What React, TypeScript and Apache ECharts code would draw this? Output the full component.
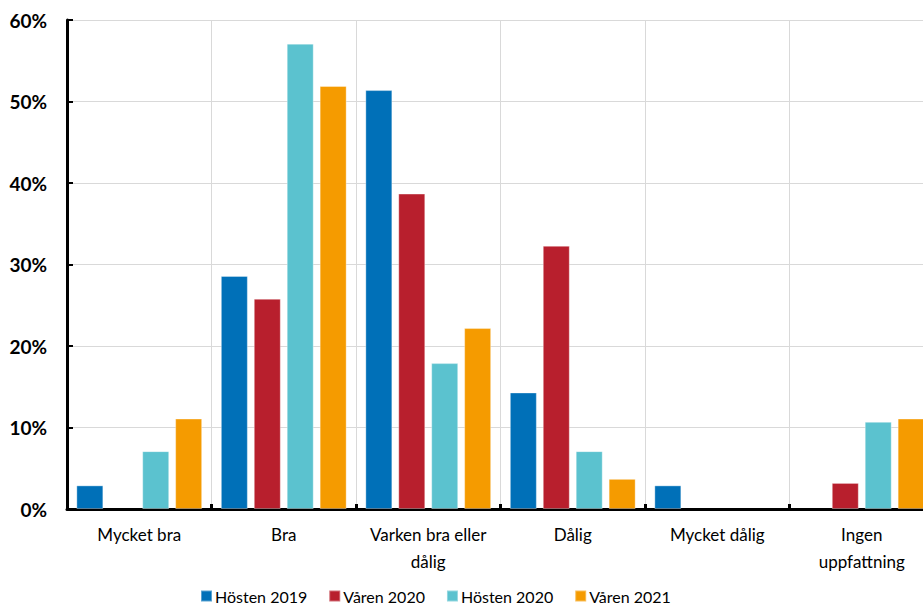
import React, { useEffect, useRef } from "react";
import * as echarts from "echarts";

const categories = ["Mycket bra", "Bra", "Varken bra eller\ndålig", "Dålig", "Mycket dålig", "Ingen\nuppfattning"];
const seriesNames = ["Hösten 2019", "Våren 2020", "Hösten 2020", "Våren 2021"];
const hosten2019 = [2.9, 28.6, 51.4, 14.3, 2.9, 0];
const varen2020 = [0, 25.8, 38.7, 32.3, 0, 3.2];
const hosten2020 = [7.1, 57.1, 17.9, 7.1, 0, 10.7];
const varen2021 = [11.1, 51.9, 22.2, 3.7, 0, 11.1];
const colors = ["#0070B8", "#B81F2D", "#5BC2CF", "#F59B00"];
const yTicks = { min: 0, max: 60, interval: 10 };

const FONT = "Lato";

export default function App() {
  const ref = useRef<HTMLDivElement>(null);
  useEffect(() => {
    document.body.style.margin = "0";
    const chart = echarts.init(ref.current!, null, { renderer: "svg" });
    const data = [hosten2019, varen2020, hosten2020, varen2021];
    chart.setOption({
      animation: false,
      grid: { left: 67, top: 20, width: 867, height: 489, containLabel: false },
      legend: {
        top: 588,
        left: 200,
        padding: 0,
        itemWidth: 11,
        itemHeight: 11,
        itemGap: 21,
        icon: "rect",
        textStyle: { fontFamily: FONT, fontSize: 16, color: "#000", padding: [0, 0, 0, -2] },
        data: seriesNames,
      },
      xAxis: {
        type: "category",
        data: categories,
        axisLine: { lineStyle: { color: "#000", width: 3 } },
        axisTick: { show: true, inside: true, length: 5, lineStyle: { color: "#000", width: 3 } },
        splitLine: { show: true, lineStyle: { color: "#d9d9d9", width: 1 } },
        axisLabel: { fontFamily: FONT, fontSize: 17, color: "#000", lineHeight: 27, margin: 12, interval: 0 },
      },
      yAxis: {
        type: "value",
        min: yTicks.min,
        max: yTicks.max,
        interval: yTicks.interval,
        axisLine: { show: true, lineStyle: { color: "#000", width: 3 } },
        axisTick: { show: true, inside: true, length: 6, lineStyle: { color: "#000", width: 2 } },
        splitLine: { show: true, lineStyle: { color: "#d9d9d9", width: 1 } },
        axisLabel: { formatter: "{value}%", fontFamily: FONT, fontWeight: "bold", fontSize: 19, color: "#000", margin: 20 },
      },
      series: seriesNames.map((name, i) => ({
        name,
        type: "bar",
        data: data[i].map((v) => (v === 0 ? "-" : v)),
        barWidth: 27,
        barGap: "22%",
        itemStyle: { color: colors[i], borderColor: "rgba(255,255,255,0.35)", borderWidth: 1 },
      })),
    });
    return () => chart.dispose();
  }, []);
  return (
    <div style={{ width: 923, height: 606, overflow: "hidden", position: "relative" }}>
      <div ref={ref} style={{ width: 950, height: 606 }} />
    </div>
  );
}
